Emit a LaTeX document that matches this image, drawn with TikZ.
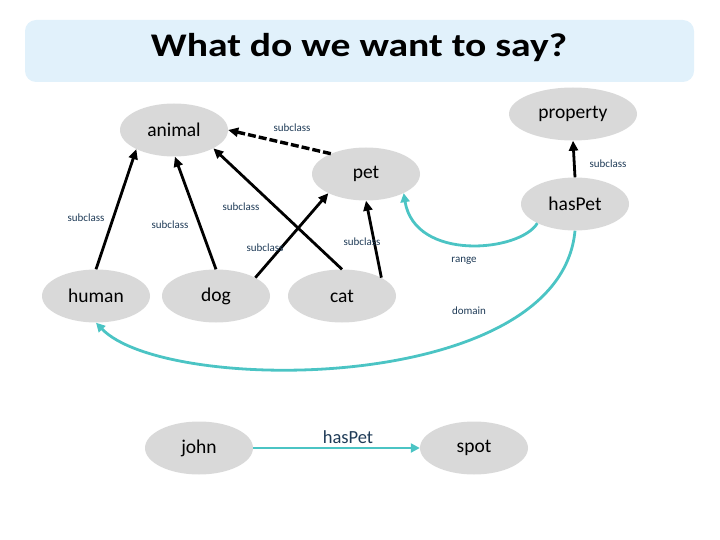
\documentclass[tikz,border=0pt]{standalone}
\usepackage{fontspec}
\setmainfont{Carlito}
\usetikzlibrary{shapes.geometric,arrows.meta}
\definecolor{nodegray}{HTML}{D9D9D9}
\definecolor{titlebg}{HTML}{E1F1FB}
\definecolor{teal2}{HTML}{4BC4C4}
\definecolor{lblcol}{HTML}{1F3B57}
\tikzset{
  ent/.style={ellipse, fill=nodegray, draw=none, minimum width=108pt, minimum height=53pt, inner sep=0pt, font=\fontsize{19.5}{22}\selectfont},
  sub/.style={line width=2.8pt, -{Triangle[length=10pt,width=9pt]}},
  dsub/.style={sub, line width=3.4pt, dash pattern=on 8pt off 3pt},
  prop/.style={line width=2.8pt, draw=teal2, -{Triangle[length=9pt,width=9pt]}, color=teal2},
  lbl/.style={font=\fontsize{11}{12}\selectfont, text=lblcol, inner sep=1pt},
}
\begin{document}
\begin{tikzpicture}[x=1pt,y=-1pt]
\useasboundingbox (0,0) rectangle (720,540);
\node[draw=none, fill=titlebg, rounded corners=11pt, minimum width=669pt, minimum height=62pt] (titlebox) at (359.5,51) {};
\node[font=\fontsize{33}{36}\selectfont\bfseries] (title) at (359,48) {\scalebox{1.2}[1]{What do we want to say?}};

\node[ent] (animal) at (174,130) {animal};
\node[ent] (pet) at (366,174) {pet};
\node[ent, minimum width=128pt] (property) at (573,114) {property};
\node[ent] (hasPet) at (575,204) {hasPet};
\node[ent] (human) at (96,296) {human};
\node[ent] (dog) at (216,296) {dog};
\node[ent] (cat) at (342,296) {cat};
\node[ent] (john) at (199,448) {john};
\node[ent] (spot) at (474,448) {spot};

\draw[dsub] (pet.150) -- (animal.east);
\draw[sub] (hasPet.north) -- (property.south);
\draw[sub] (human.north) -- (animal.207);
\draw[sub] (dog.north) -- (animal.-88);
\draw[sub] (cat.north) -- (animal.-25);
\draw[sub] (dog.25) -- (pet.207);
\draw[sub] (cat.25) -- (pet.-90);

\draw[prop] (hasPet.207) .. controls (520,252) and (415,262) .. (pet.-27);
\draw[prop] (hasPet.south) .. controls (560,395) and (165,395) .. (human.south);
\draw[prop] (john.east) -- (spot.west);

\node[lbl] (l1) at (292,128) {subclass};
\node[lbl] (l2) at (608,164) {subclass};
\node[lbl] (l3) at (86,218) {subclass};
\node[lbl] (l4) at (170,225) {subclass};
\node[lbl] (l5) at (241,207) {subclass};
\node[lbl] (l6) at (265,248) {subclass};
\node[lbl] (l7) at (362,242) {subclass};
\node[lbl] (l8) at (464,261) {range};
\node[lbl] (l9) at (469,311) {domain};
\node[font=\fontsize{18.5}{21}\selectfont, text=lblcol] (l10) at (348,437) {hasPet};
\end{tikzpicture}
\end{document}
